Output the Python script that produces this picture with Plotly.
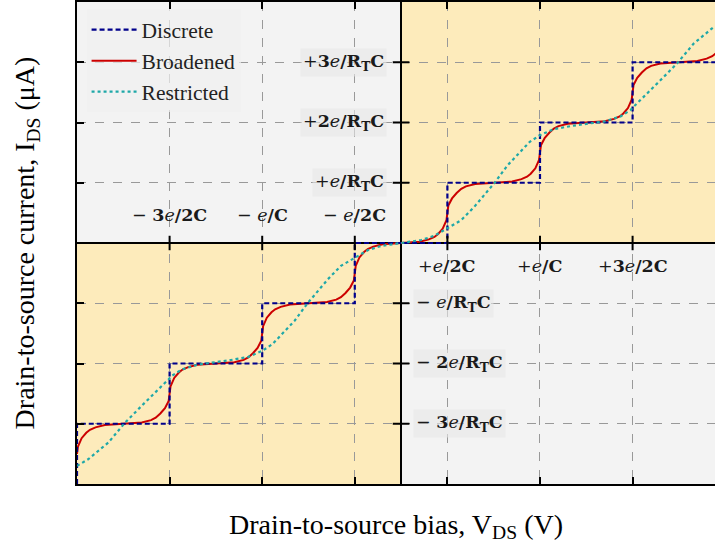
import plotly.graph_objects as go

# ---------------- data ----------------
x_discrete = [-3.5, -3.5, -2.5, -2.5, -1.5, -1.5, -0.5, -0.5, 0.5, 0.5, 1.5, 1.5, 2.5, 2.5, 3.5]
y_discrete = [-4, -3, -3, -2, -2, -1, -1, 0, 0, 1, 1, 2, 2, 3, 3]

x_broad = [-3.5, -3.49, -3.45, -3.4, -3.36, -3.3, -3.2, -3.0,
           -2.8, -2.7, -2.65, -2.6, -2.55, -2.51, -2.5, -2.49, -2.45, -2.4, -2.36, -2.3, -2.2, -2.0,
           -1.8, -1.7, -1.65, -1.6, -1.55, -1.51, -1.5, -1.49, -1.45, -1.4, -1.36, -1.3, -1.2, -1.0,
           -0.8, -0.7, -0.65, -0.6, -0.55, -0.51, -0.5, -0.49, -0.45, -0.4, -0.36, -0.3, -0.2, 0.0,
           0.2, 0.3, 0.36, 0.4, 0.45, 0.49, 0.5, 0.51, 0.55, 0.6, 0.65, 0.7, 0.8, 1.0,
           1.2, 1.3, 1.36, 1.4, 1.45, 1.49, 1.5, 1.51, 1.55, 1.6, 1.65, 1.7, 1.8, 2.0,
           2.2, 2.3, 2.36, 2.4, 2.45, 2.49, 2.5, 2.51, 2.55, 2.6, 2.65, 2.7, 2.8, 3.0,
           3.2, 3.3, 3.36, 3.4]
y_broad = [-3.5, -3.38, -3.24, -3.15, -3.1, -3.06, -3.02, -3.0,
           -2.98, -2.94, -2.9, -2.83, -2.74, -2.62, -2.5, -2.38, -2.24, -2.15, -2.1, -2.06, -2.02, -2.0,
           -1.98, -1.94, -1.9, -1.83, -1.74, -1.62, -1.5, -1.38, -1.24, -1.15, -1.1, -1.06, -1.02, -1.0,
           -0.98, -0.94, -0.9, -0.83, -0.74, -0.62, -0.5, -0.38, -0.24, -0.15, -0.1, -0.06, -0.02, 0.0,
           0.02, 0.06, 0.1, 0.15, 0.24, 0.38, 0.5, 0.62, 0.74, 0.83, 0.9, 0.94, 0.98, 1.0,
           1.02, 1.06, 1.1, 1.15, 1.24, 1.38, 1.5, 1.62, 1.74, 1.83, 1.9, 1.94, 1.98, 2.0,
           2.02, 2.06, 2.1, 2.15, 2.24, 2.38, 2.5, 2.62, 2.74, 2.83, 2.9, 2.94, 2.98, 3.0,
           3.02, 3.06, 3.1, 3.15]

x_restr = [-3.5, -3.38, -3.16, -2.98, -2.8, -2.65, -2.51, -2.48, -2.37, -2.2, -2.0, -1.83, -1.65,
           -1.5, -1.39, -1.3, -1.15, -1.01, -0.79, -0.65, -0.5, -0.36, -0.22, 0.0,
           0.22, 0.36, 0.5, 0.65, 0.79, 1.01, 1.15, 1.3, 1.39, 1.5, 1.65, 1.83, 2.0,
           2.2, 2.37, 2.48, 2.51, 2.65, 2.8, 2.98, 3.16, 3.38]
y_restr = [-3.70, -3.59, -3.31, -2.98, -2.70, -2.48, -2.26, -2.21, -2.10, -2.02, -1.98, -1.94, -1.89,
           -1.79, -1.68, -1.54, -1.29, -1.0, -0.60, -0.38, -0.24, -0.12, -0.05, 0.0,
           0.05, 0.12, 0.24, 0.38, 0.60, 1.0, 1.29, 1.54, 1.68, 1.79, 1.89, 1.94, 1.98,
           2.02, 2.10, 2.21, 2.26, 2.48, 2.70, 2.98, 3.31, 3.59]

x_ticks = [-2.5, -1.5, -0.5, 0.5, 1.5, 2.5]
y_ticks = [-3, -2, -1, 1, 2, 3]

x_labels_neg = ["− <b>3</b><i>e</i><b>/2C</b>", "− <i>e</i><b>/C</b>", "− <i>e</i><b>/2C</b>"]
x_labels_pos = ["+<i>e</i><b>/2C</b>", "+<i>e</i><b>/C</b>", "+<b>3</b><i>e</i><b>/2C</b>"]
y_labels_pos = ["+<i>e</i><b>/R<sub>T</sub>C</b>", "+<b>2</b><i>e</i><b>/R<sub>T</sub>C</b>",
                "+<b>3</b><i>e</i><b>/R<sub>T</sub>C</b>"]
y_labels_neg = ["− <i>e</i><b>/R<sub>T</sub>C</b>", "− <b>2</b><i>e</i><b>/R<sub>T</sub>C</b>",
                "− <b>3</b><i>e</i><b>/R<sub>T</sub>C</b>"]

X_RANGE = [-3.5, 3.39]
Y_RANGE = [-4, 4]

SERIF = "Liberation Serif, Times New Roman, serif"
LSERIF = "DejaVu Serif, serif"

fig = go.Figure()

fig.add_trace(go.Scatter(x=x_broad, y=y_broad, mode="lines", name="Broadened",
                         line=dict(color="#cc0000", width=2), legendrank=2))
fig.add_trace(go.Scatter(x=x_discrete, y=y_discrete, mode="lines", name="Discrete",
                         line=dict(color="#00008b", width=2.2, dash="5px,3px"), legendrank=1))
fig.add_trace(go.Scatter(x=x_restr, y=y_restr, mode="lines", name="Restricted",
                         line=dict(color="#1fa8a8", width=2.2, dash="dot"), legendrank=3))

shapes = []
GRAY = "#f3f3f3"
ORANGE = "#fdebbb"
shapes.append(dict(type="rect", xref="x", yref="y", x0=X_RANGE[0], x1=0, y0=0, y1=Y_RANGE[1],
                   fillcolor=GRAY, line_width=0, layer="below"))
shapes.append(dict(type="rect", xref="x", yref="y", x0=0, x1=4, y0=0, y1=Y_RANGE[1],
                   fillcolor=ORANGE, line_width=0, layer="below"))
shapes.append(dict(type="rect", xref="x", yref="y", x0=X_RANGE[0], x1=0, y0=Y_RANGE[0], y1=0,
                   fillcolor=ORANGE, line_width=0, layer="below"))
shapes.append(dict(type="rect", xref="x", yref="y", x0=0, x1=4, y0=Y_RANGE[0], y1=0,
                   fillcolor=GRAY, line_width=0, layer="below"))
for xv in x_ticks:
    shapes.append(dict(type="line", xref="x", yref="y", x0=xv, x1=xv, y0=-0.12, y1=0.12,
                       line=dict(color="black", width=2), layer="above"))
for yv in y_ticks:
    shapes.append(dict(type="line", xref="x", yref="y", x0=-0.09, x1=0.09, y0=yv, y1=yv,
                       line=dict(color="black", width=2), layer="above"))

annotations = []
LBL_BG = "rgba(232,232,232,0.6)"
LBL_FONT = dict(family=LSERIF, size=17.5, color="#1a1a1a")
for xv, t in zip(x_ticks[:3], x_labels_neg):
    annotations.append(dict(x=xv, y=0.47, xref="x", yref="y", text=t, showarrow=False,
                            xanchor="center", yanchor="middle", font=LBL_FONT))
for xv, t in zip(x_ticks[3:], x_labels_pos):
    annotations.append(dict(x=xv, y=-0.38, xref="x", yref="y", text=t, showarrow=False,
                            xanchor="center", yanchor="middle", font=LBL_FONT))
for yv, t in zip(y_ticks[3:], y_labels_pos):
    annotations.append(dict(x=-0.15, y=yv, xref="x", yref="y", text=t, showarrow=False,
                            xanchor="right", yanchor="middle", font=LBL_FONT,
                            bgcolor=LBL_BG, borderpad=2))
for yv, t in zip(y_ticks[2::-1], y_labels_neg):
    annotations.append(dict(x=0.13, y=yv, xref="x", yref="y", text=t, showarrow=False,
                            xanchor="left", yanchor="middle", font=LBL_FONT,
                            bgcolor=LBL_BG, borderpad=2))

fig.update_layout(
    width=715, height=553,
    margin=dict(l=77, r=0, t=2, b=69),
    paper_bgcolor="white", plot_bgcolor="white",
    font=dict(family=SERIF, size=20, color="black"),
    shapes=shapes, annotations=annotations,
    legend=dict(x=0.015, y=0.985, xanchor="left", yanchor="top",
                bgcolor="rgba(240,240,240,0.7)", borderwidth=0, itemwidth=45,
                font=dict(family=SERIF, size=21.5, color="#222222")),
    showlegend=True,
)
fig.update_xaxes(range=X_RANGE, tickvals=x_ticks, showticklabels=False,
                 ticks="inside", ticklen=7, tickwidth=2, tickcolor="black",
                 showgrid=True, gridcolor="#999999", griddash="dash", gridwidth=1,
                 zeroline=True, zerolinecolor="black", zerolinewidth=2,
                 showline=True, linecolor="black", linewidth=2, mirror="ticks",
                 title=dict(text="Drain-to-source bias, V<sub>DS</sub> (V)",
                            font=dict(family=SERIF, size=28), standoff=29))
fig.update_yaxes(range=Y_RANGE, tickvals=y_ticks, showticklabels=False,
                 ticks="inside", ticklen=7, tickwidth=2, tickcolor="black",
                 showgrid=True, gridcolor="#999999", griddash="dash", gridwidth=1,
                 zeroline=True, zerolinecolor="black", zerolinewidth=2,
                 showline=True, linecolor="black", linewidth=2,
                 title=dict(text="Drain-to-source current, I<sub>DS</sub> (μA)",
                            font=dict(family=SERIF, size=28), standoff=32))

fig.write_html("out.html", post_script="document.body.style.margin='0px';",
               config={"displayModeBar": False})
